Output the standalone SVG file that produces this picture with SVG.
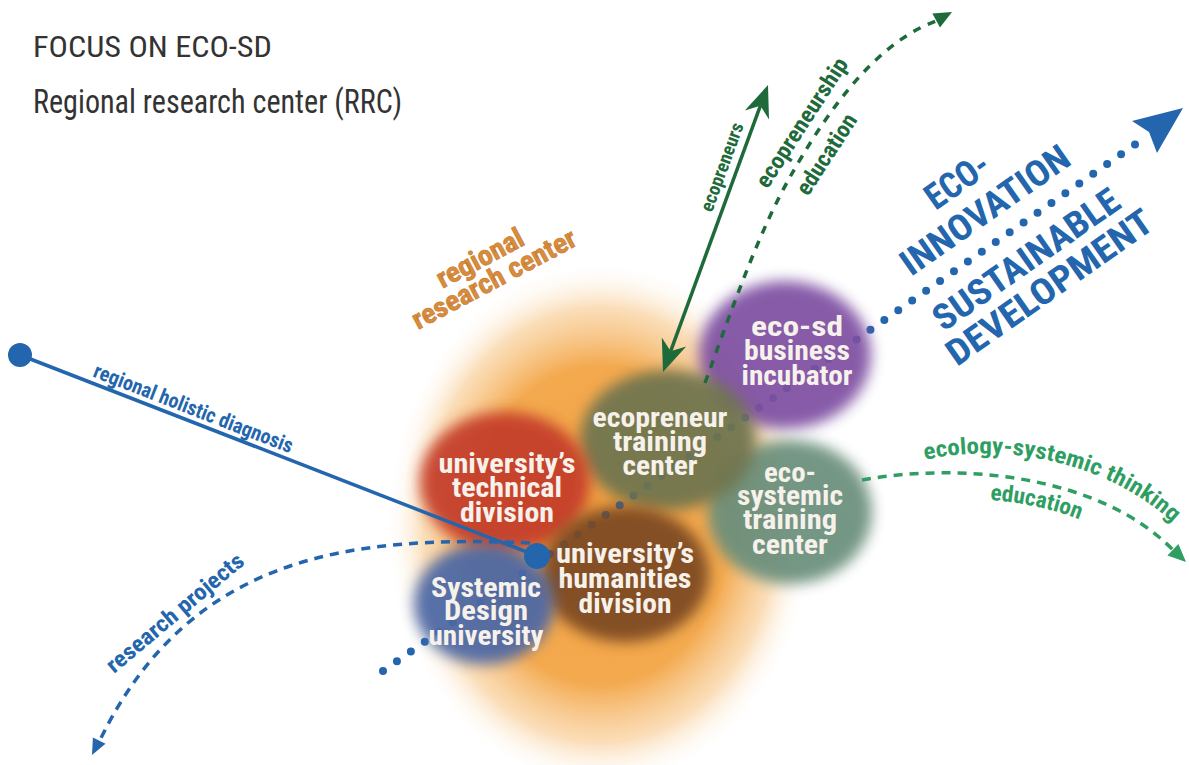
<svg xmlns="http://www.w3.org/2000/svg" width="1189" height="765" viewBox="0 0 1189 765">
<defs>
  <radialGradient id="glow" cx="0.5" cy="0.5" r="0.5">
    <stop offset="0" stop-color="#f2a040" stop-opacity="1"/>
    <stop offset="0.6" stop-color="#f3a546" stop-opacity="0.95"/>
    <stop offset="0.82" stop-color="#f7c27e" stop-opacity="0.55"/>
    <stop offset="1" stop-color="#ffffff" stop-opacity="0"/>
  </radialGradient>
  <filter id="soft" x="-30%" y="-30%" width="160%" height="160%">
    <feGaussianBlur stdDeviation="7"/>
  </filter>
  <style>
    .cond { font-family: "Liberation Sans Narrow", "Roboto Condensed", "Liberation Sans", Arial, sans-serif; font-weight: bold; }
    .title { font-family: "Liberation Sans Narrow", "Roboto Condensed", "Liberation Sans", Arial, sans-serif; fill: #333333; }
    .node text { font-size: 28px; fill: #f6f1ea; text-anchor: middle; }
    .blue { fill: #2366ad; }
    .dgreen { fill: #1e6a3a; }
    .lgreen { fill: #2f9e62; }
  </style>
</defs>
<rect width="1189" height="765" fill="#ffffff"/>

<text class="title" x="33" y="57" font-size="29" textLength="239" lengthAdjust="spacingAndGlyphs">FOCUS ON ECO-SD</text>
<text class="title" x="33" y="113" font-size="33" textLength="369" lengthAdjust="spacingAndGlyphs">Regional research center (RRC)</text>

<g id="regional-research-center">
  <ellipse cx="600" cy="525" rx="215" ry="265" fill="url(#glow)"/>
  <g transform="translate(418,330) rotate(-28)" class="cond" font-size="28" fill="#d98c3c" stroke="#c47a30" stroke-width="0.6">
    <text x="41" y="-25" textLength="95" lengthAdjust="spacingAndGlyphs">regional</text>
    <text x="0" y="0" textLength="182" lengthAdjust="spacingAndGlyphs">research center</text>
  </g>
</g>

<g id="dotted-connector">
  <path d="M383 671 L1140 141" fill="none" stroke="#2366ad" stroke-width="8" stroke-linecap="round" stroke-dasharray="0 17"/>
  <polygon points="1183,108 1132,121 1149,132 1157,153" fill="#2366ad"/>
</g>

<g id="node-incubator" class="node cond">
  <ellipse cx="785" cy="355" rx="86" ry="74" fill="#7e4fa2" opacity="0.93" filter="url(#soft)"/>
  <text x="797" y="336" textLength="92" lengthAdjust="spacingAndGlyphs">eco-sd</text>
  <text x="797" y="360" textLength="106" lengthAdjust="spacingAndGlyphs">business</text>
  <text x="797" y="385" textLength="111" lengthAdjust="spacingAndGlyphs">incubator</text>
</g>
<g id="node-ecosystemic" class="node cond">
  <ellipse cx="790" cy="512" rx="82" ry="72" fill="#6b8f7c" opacity="0.93" filter="url(#soft)"/>
  <text x="790" y="482" textLength="52" lengthAdjust="spacingAndGlyphs">eco-</text>
  <text x="790" y="505" textLength="106" lengthAdjust="spacingAndGlyphs">systemic</text>
  <text x="790" y="529" textLength="94" lengthAdjust="spacingAndGlyphs">training</text>
  <text x="790" y="554" textLength="76" lengthAdjust="spacingAndGlyphs">center</text>
</g>
<g id="node-ecopreneur" class="node cond">
  <ellipse cx="668" cy="440" rx="88" ry="70" fill="#6e7450" opacity="0.93" filter="url(#soft)"/>
  <text x="660" y="427" textLength="135" lengthAdjust="spacingAndGlyphs">ecopreneur</text>
  <text x="660" y="451" textLength="94" lengthAdjust="spacingAndGlyphs">training</text>
  <text x="660" y="475" textLength="75" lengthAdjust="spacingAndGlyphs">center</text>
</g>
<g id="node-technical" class="node cond">
  <ellipse cx="505" cy="482" rx="85" ry="70" fill="#c43c2a" opacity="0.93" filter="url(#soft)"/>
  <text x="507" y="473" textLength="137" lengthAdjust="spacingAndGlyphs">university’s</text>
  <text x="507" y="497" textLength="110" lengthAdjust="spacingAndGlyphs">technical</text>
  <text x="507" y="522" textLength="94" lengthAdjust="spacingAndGlyphs">division</text>
</g>
<g id="node-humanities" class="node cond">
  <ellipse cx="625" cy="574" rx="84" ry="68" fill="#7b4a24" opacity="0.93" filter="url(#soft)"/>
  <text x="625" y="563" textLength="138" lengthAdjust="spacingAndGlyphs">university’s</text>
  <text x="625" y="588" textLength="133" lengthAdjust="spacingAndGlyphs">humanities</text>
  <text x="625" y="613" textLength="93" lengthAdjust="spacingAndGlyphs">division</text>
</g>
<g id="node-systemic-design" class="node cond">
  <ellipse cx="484" cy="604" rx="70" ry="60" fill="#4b67a6" opacity="0.93" filter="url(#soft)"/>
  <text x="486" y="597" textLength="110" lengthAdjust="spacingAndGlyphs">Systemic</text>
  <text x="486" y="620" textLength="84" lengthAdjust="spacingAndGlyphs">Design</text>
  <text x="486" y="645" textLength="115" lengthAdjust="spacingAndGlyphs">university</text>
</g>

<g id="connectors">
  <!-- regional holistic diagnosis -->
  <line x1="20" y1="355" x2="537" y2="556" stroke="#2366ad" stroke-width="3.5"/>
  <circle cx="20" cy="355" r="12" fill="#2366ad"/>
  <circle cx="537" cy="556" r="13" fill="#2366ad"/>
  <!-- research projects -->
  <path d="M530 543 C350 535 190 555 100 740" fill="none" stroke="#2366ad" stroke-width="3.5" stroke-dasharray="9 7"/>
  <polygon points="92,755 105.5,743.8 92.9,737.6" fill="#2366ad"/>
  <!-- ecopreneurs double arrow -->
  <line x1="670.6" y1="351.3" x2="760.4" y2="105.7" stroke="#1e6a3a" stroke-width="3.5"/>
  <polygon points="768,85 769,119.5 760.4,105.7 744.8,110.5" fill="#1e6a3a"/>
  <polygon points="663,372 661.8,337.5 670.6,351.3 686.2,346.5" fill="#1e6a3a"/>
  <!-- ecopreneurship education -->
  <path d="M705 383 C735 300 760 230 790 177 S870 45 936 21" fill="none" stroke="#1e6a3a" stroke-width="3.5" stroke-dasharray="8 8"/>
  <polygon points="952,12 940,27.5 932.4,13.5" fill="#1e6a3a"/>
  <!-- ecology-systemic thinking education -->
  <path d="M862 480 C960 462 1100 475 1173 550" fill="none" stroke="#2f9e62" stroke-width="3.5" stroke-dasharray="9 7"/>
  <polygon points="1186,562 1167.4,555.5 1178.4,543.9" fill="#2f9e62"/>
</g>

<g id="labels" class="cond">
  <text class="blue" transform="translate(20,355) rotate(21.25)" x="75" y="-6" font-size="21" textLength="212" lengthAdjust="spacingAndGlyphs">regional holistic diagnosis</text>
  <text class="blue" transform="translate(114,674) rotate(-40)" x="0" y="0" font-size="23" textLength="172" lengthAdjust="spacingAndGlyphs">research projects</text>
  <text class="dgreen" transform="translate(712,213) rotate(-70)" x="0" y="0" font-size="19" textLength="93" lengthAdjust="spacingAndGlyphs">ecopreneurs</text>
  <g class="dgreen" transform="translate(808,197) rotate(-57)" font-size="23">
    <text x="-16" y="-38" textLength="150" lengthAdjust="spacingAndGlyphs">ecopreneurship</text>
    <text x="0" y="0" textLength="92" lengthAdjust="spacingAndGlyphs">education</text>
  </g>
  <path id="tp1" d="M925 460 C1000 442 1110 460 1178 528" fill="none"/>
  <path id="tp2" d="M990 500 C1020 502 1060 510 1090 524" fill="none"/>
  <text class="lgreen" font-size="23"><textPath href="#tp1" textLength="265" lengthAdjust="spacingAndGlyphs">ecology-systemic thinking</textPath></text>
  <text class="lgreen" font-size="23"><textPath href="#tp2" textLength="92" lengthAdjust="spacingAndGlyphs">education</textPath></text>
  <g class="blue" transform="translate(911,277) rotate(-35)" font-size="36">
    <text x="58" y="-40" textLength="70" lengthAdjust="spacingAndGlyphs">ECO-</text>
    <text x="0" y="0" textLength="198" lengthAdjust="spacingAndGlyphs">INNOVATION</text>
    <text x="-5" y="64" textLength="219" lengthAdjust="spacingAndGlyphs">SUSTAINABLE</text>
    <text x="-14" y="100" textLength="243" lengthAdjust="spacingAndGlyphs">DEVELOPMENT</text>
  </g>
</g>
</svg>
